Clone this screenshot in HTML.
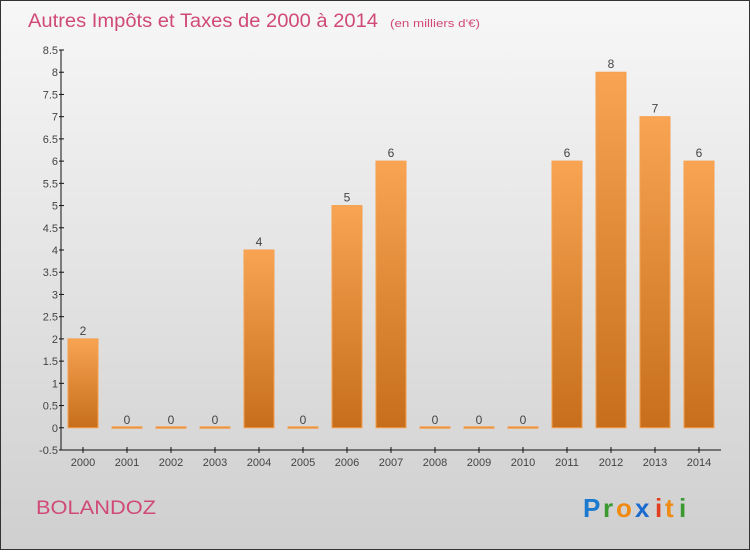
<!DOCTYPE html>
<html><head><meta charset="utf-8"><style>
body{margin:0;width:750px;height:550px;overflow:hidden;font-family:"Liberation Sans",sans-serif}
</style></head><body>
<svg width="750" height="550" xmlns="http://www.w3.org/2000/svg">
<defs>
<linearGradient id="bg" x1="0" y1="0" x2="0" y2="1"><stop offset="0" stop-color="#f7f7f7"/><stop offset="1" stop-color="#cfcfcf"/></linearGradient>
<linearGradient id="bar" x1="0" y1="0" x2="0" y2="1"><stop offset="0" stop-color="#f8a452"/><stop offset="1" stop-color="#c66e1c"/></linearGradient>
</defs>
<rect x="0.5" y="0.5" width="749" height="549" fill="url(#bg)" stroke="#333"/>
<text x="28" y="27" font-size="19" fill="#d04a78" textLength="350" lengthAdjust="spacingAndGlyphs">Autres Impôts et Taxes de 2000 à 2014</text>
<text x="390" y="27" font-size="11" fill="#d04a78" textLength="90" lengthAdjust="spacingAndGlyphs">(en milliers d'€)</text>
<g id="yaxis"></g>
<g id="bars"></g>
<g id="xaxis"></g>
<text x="36" y="514" font-size="19" fill="#d04a78" textLength="120" lengthAdjust="spacingAndGlyphs">BOLANDOZ</text>
<g font-size="26" font-weight="bold">
<text x="583" y="517" fill="#1a7ad0">P</text><text x="603" y="517" fill="#3a9a30">r</text><text x="616" y="517" fill="#f08a10">o</text><text x="635" y="517" fill="#1a6ad0">x</text><text x="655" y="517" fill="#e04020">i</text><text x="665" y="517" fill="#f08a10">t</text><text x="679" y="517" fill="#3a9a30">i</text>
</g>
</svg>
<script>
const categories=["2000","2001","2002","2003","2004","2005","2006","2007","2008","2009","2010","2011","2012","2013","2014"];
const values=[2,0,0,0,4,0,5,6,0,0,0,6,8,7,6];
const yTicks=[-0.5,0,0.5,1,1.5,2,2.5,3,3.5,4,4.5,5,5.5,6,6.5,7,7.5,8,8.5];
const NS="http://www.w3.org/2000/svg";
const x0=61,x1=721,yTop=50,yBot=450,vMin=-0.5,vMax=8.5;
const y=v=>yBot-(v-vMin)/(vMax-vMin)*(yBot-yTop);
const bw=(x1-x0)/categories.length;
const cx=i=>x0+bw*(i+0.5);
function mk(tag,attrs,parent,txt){const e=document.createElementNS(NS,tag);for(const k in attrs)e.setAttribute(k,attrs[k]);if(txt!==undefined)e.textContent=txt;parent.appendChild(e);return e;}
const ya=document.getElementById('yaxis'),xa=document.getElementById('xaxis'),bg=document.getElementById('bars');
let l=mk('line',{x1:x0,y1:yTop,x2:x0,y2:yBot,stroke:'#111'},ya);


yTicks.forEach(t=>{
 const tk=mk('line',{x1:x0-2,y1:y(t),x2:x0+3,y2:y(t),stroke:'#111'},ya);
 
 
 const tx=mk('text',{x:x0-3,y:y(t)+4,'font-size':11,fill:'#444','text-anchor':'end'},ya,String(t));
 
 
});
l=mk('line',{x1:x0,y1:yBot,x2:x1,y2:yBot,stroke:'#111'},xa);


categories.forEach((c,i)=>{
 const tk=mk('line',{x1:cx(i),y1:yBot-3,x2:cx(i),y2:yBot+3,stroke:'#111'},xa);
 
 
 const tx=mk('text',{x:cx(i),y:yBot+16,'font-size':11,fill:'#444','text-anchor':'middle'},xa,c);
 
 
 const v=values[i];
 const top=y(v),h=Math.max(y(0)-top,1.5);
 const r=mk('rect',{x:cx(i)-15,y:v>0?top:y(0)-1,width:30,height:h,fill:'url(#bar)',stroke:'#f5a050','stroke-width':1},bg);
 
 
 const vl=mk('text',{x:cx(i),y:top-4,'font-size':12,fill:'#444','text-anchor':'middle'},bg,String(v));
 
 
});
</script>
</body></html>
